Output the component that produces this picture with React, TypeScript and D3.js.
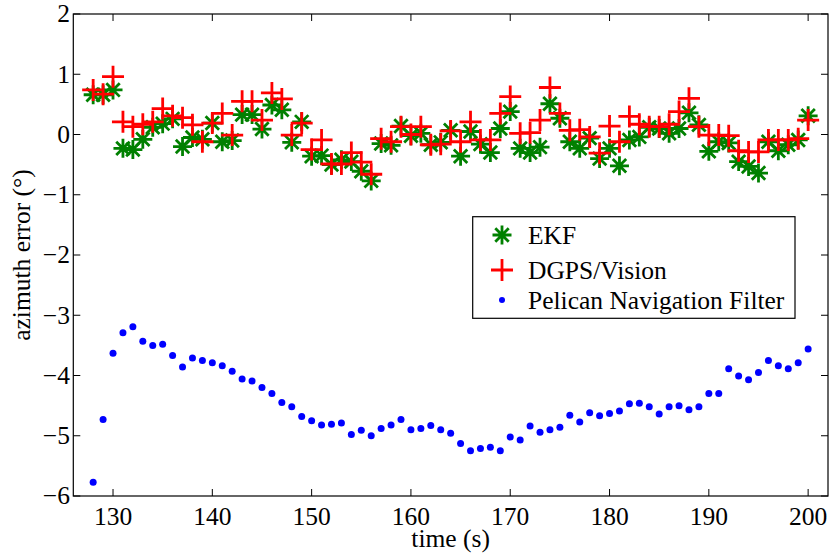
import React from "react";
import * as d3 from "d3";

const times: number[] = d3.range(128, 201);

const ekf: number[] = [
  0.66, 0.66, 0.74, -0.23, -0.25, -0.08, 0.12, 0.18, 0.26, -0.2,
  -0.05, -0.08, 0.19, -0.12, -0.1, 0.33, 0.33, 0.09, 0.49, 0.41,
  -0.13, 0.21, -0.36, -0.35, -0.5, -0.42, -0.45, -0.61, -0.77, -0.15,
  -0.18, 0.14, -0.02, 0.02, -0.17, -0.13, 0.07, -0.36, 0.05, -0.16,
  -0.3, 0.1, 0.38, -0.23, -0.3, -0.21, 0.51, 0.27, -0.12, -0.23,
  -0.06, -0.4, -0.23, -0.52, -0.09, -0.04, 0.12, 0.1, 0.02, 0.1,
  0.36, 0.16, -0.28, -0.12, -0.14, -0.45, -0.53, -0.64, -0.12, -0.27,
  -0.17, -0.09, 0.31,
];

const dgps: number[] = [
  0.74, 0.67, 0.96, 0.21, 0.13, 0.17, 0.21, 0.43, 0.31, 0.28,
  0.16, -0.12, 0.19, 0.35, -0.01, 0.55, 0.55, 0.24, 0.69, 0.59,
  -0.01, 0.19, -0.25, -0.09, -0.49, -0.49, -0.3, -0.46, -0.66, -0.07,
  -0.12, 0.13, 0.0, 0.13, -0.17, -0.16, 0.06, -0.12, 0.21, -0.09,
  -0.09, 0.35, 0.63, 0.02, 0.03, 0.24, 0.78, 0.35, 0.07, 0.08,
  -0.04, -0.31, 0.14, -0.12, 0.3, 0.17, 0.13, 0.13, 0.17, 0.38,
  0.6, 0.13, -0.01, -0.01, -0.02, -0.27, -0.29, -0.29, -0.09, -0.09,
  -0.09, -0.07, 0.24,
];

const pelican: number[] = [
  -5.77, -4.73, -3.63, -3.29, -3.19, -3.43, -3.5, -3.48, -3.67, -3.86,
  -3.71, -3.75, -3.79, -3.84, -3.93, -4.06, -4.09, -4.2, -4.3, -4.45,
  -4.52, -4.68, -4.75, -4.82, -4.81, -4.79, -4.98, -4.91, -5.0, -4.88,
  -4.82, -4.73, -4.9, -4.88, -4.83, -4.9, -4.96, -5.13, -5.25, -5.21,
  -5.19, -5.25, -5.02, -5.07, -4.84, -4.94, -4.9, -4.86, -4.66, -4.77,
  -4.62, -4.67, -4.63, -4.59, -4.47, -4.46, -4.52, -4.64, -4.52, -4.5,
  -4.57, -4.52, -4.3, -4.3, -3.89, -4.01, -4.07, -3.95, -3.75, -3.84,
  -3.89, -3.79, -3.56,
];

const xTicks: number[] = [130, 140, 150, 160, 170, 180, 190, 200];
const yTicks: number[] = [2, 1, 0, -1, -2, -3, -4, -5, -6];
const legendLabels: string[] = ["EKF", "DGPS/Vision", "Pelican Navigation Filter"];

const W = 832;
const H = 557;
const L = 73.3, R = 828, T = 14, B = 496;
const FONT = '"Liberation Serif", Tinos, "Times New Roman", Times';
const FS = 25.5;
const GREEN = "#008000";
const RED = "#ff0000";
const BLUE = "#0000ff";

const x = d3.scaleLinear().domain([126, 202]).range([L, R]);
const y = d3.scaleLinear().domain([-6, 2]).range([B, T]);

const textStyle: React.CSSProperties = { fontFamily: FONT, fontSize: FS };

function fmt(v: number): string {
  return v < 0 ? "\u2212" + Math.abs(v) : String(v);
}

function Asterisk({ cx, cy, r }: { cx: number; cy: number; r: number }) {
  const d = r * Math.SQRT1_2;
  const p = `M${cx - r},${cy}L${cx + r},${cy}M${cx},${cy - r}L${cx},${cy + r}` +
    `M${cx - d},${cy - d}L${cx + d},${cy + d}M${cx - d},${cy + d}L${cx + d},${cy - d}`;
  return <path d={p} stroke={GREEN} strokeWidth={2.8} fill="none" />;
}

function Plus({ cx, cy, r }: { cx: number; cy: number; r: number }) {
  const p = `M${cx - r},${cy}L${cx + r},${cy}M${cx},${cy - r}L${cx},${cy + r}`;
  return <path d={p} stroke={RED} strokeWidth={2.8} fill="none" />;
}

export default function App() {
  const tickLen = 7;
  return (
    <svg
      width={W}
      height={H}
      style={{ position: "absolute", left: 0, top: 0, background: "#fff" }}
    >
      <rect x={0} y={0} width={W} height={H} fill="#fff" />
      {/* data */}
      <g>
        {times.map((t, i) => (
          <Asterisk key={"e" + i} cx={x(t)} cy={y(ekf[i])} r={9.5} />
        ))}
        {times.map((t, i) => (
          <Plus key={"d" + i} cx={x(t)} cy={y(dgps[i])} r={11} />
        ))}
        {times.map((t, i) => (
          <circle key={"p" + i} cx={x(t)} cy={y(pelican[i])} r={3.5} fill={BLUE} />
        ))}
      </g>
      {/* frame */}
      <rect x={L} y={T} width={R - L} height={B - T} fill="none" stroke="#000" strokeWidth={1.2} />
      {/* x ticks */}
      {xTicks.map((t) => (
        <g key={"xt" + t}>
          <line x1={x(t)} x2={x(t)} y1={B} y2={B - tickLen} stroke="#000" strokeWidth={1} />
          <line x1={x(t)} x2={x(t)} y1={T} y2={T + tickLen} stroke="#000" strokeWidth={1} />
          <text x={x(t)} y={525} textAnchor="middle" style={textStyle} fill="#000">
            {fmt(t)}
          </text>
        </g>
      ))}
      {/* y ticks */}
      {yTicks.map((v) => (
        <g key={"yt" + v}>
          <line x1={L} x2={L + tickLen} y1={y(v)} y2={y(v)} stroke="#000" strokeWidth={1} />
          <line x1={R} x2={R - tickLen} y1={y(v)} y2={y(v)} stroke="#000" strokeWidth={1} />
          <text x={70} y={y(v)} dy="0.33em" textAnchor="end" style={textStyle} fill="#000">
            {fmt(v)}
          </text>
        </g>
      ))}
      {/* axis labels */}
      <text x={(L + R) / 2} y={547} textAnchor="middle" style={textStyle} fill="#000">
        time (s)
      </text>
      <text
        transform={`translate(30,${(T + B) / 2}) rotate(-90)`}
        textAnchor="middle"
        style={textStyle}
        fill="#000"
      >
        azimuth error (°)
      </text>
      {/* legend */}
      <g>
        <rect x={472.7} y={216.7} width={322.3} height={101.6} fill="#fff" stroke="#000" strokeWidth={1.2} />
        <Asterisk cx={502} cy={235} r={9.5} />
        <Plus cx={502} cy={270} r={11} />
        <circle cx={502} cy={300} r={3} fill={BLUE} />
        <text x={528} y={244} style={textStyle} fill="#000">{legendLabels[0]}</text>
        <text x={528} y={278.5} style={textStyle} fill="#000">{legendLabels[1]}</text>
        <text x={528} y={308.5} style={textStyle} fill="#000">{legendLabels[2]}</text>
      </g>
    </svg>
  );
}
